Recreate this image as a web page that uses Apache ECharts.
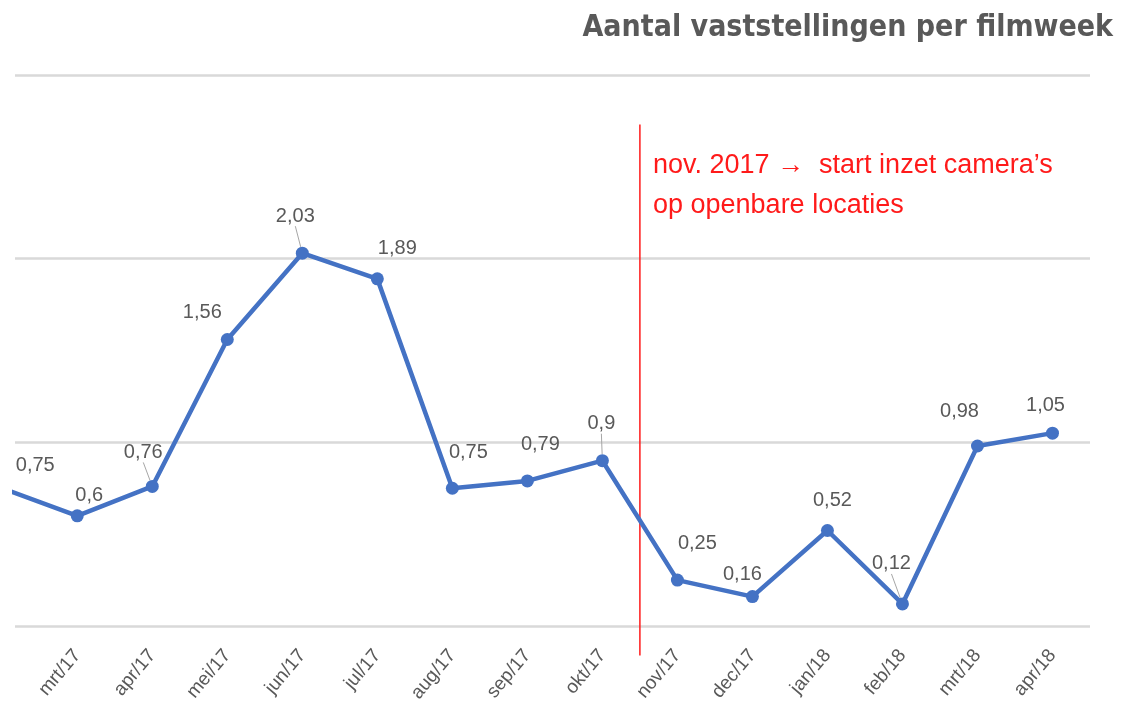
<!DOCTYPE html>
<html>
<head>
<meta charset="utf-8">
<script src="https://cdn.jsdelivr.net/npm/echarts@6/dist/echarts.min.js"></script>
<style>html,body{margin:0;padding:0;background:#fff}#c{width:1124px;height:721px}</style>
</head>
<body>
<div id="c"></div>
<script>
// Data
const categories = ['feb/17','mrt/17','apr/17','mei/17','jun/17','jul/17','aug/17','sep/17','okt/17','nov/17','dec/17','jan/18','feb/18','mrt/18','apr/18'];
const values = [0.75, 0.6, 0.76, 1.56, 2.03, 1.89, 0.75, 0.79, 0.9, 0.25, 0.16, 0.52, 0.12, 0.98, 1.05];
const leaderLines = [2, 4, 8, 12];
const markerIndex = 8.5; // boundary between okt/17 and nov/17
const markerRange = [2.73, -0.16];
const titleText = 'Aantal vaststellingen per filmweek';
const noteText = 'nov. 2017 \u2192  start inzet camera\u2019s\nop openbare locaties';

// label offsets (styling, px)
const labelOffsets = [[33,-23],[12,-20],[-9,-34],[-25,-27],[-7,-37],[20,-30],[16,-36],[13,-36],[-1,-37],[20,-37],[-10,-22],[5,-30],[-11,-40],[-18,-35],[-7,-28]];

const fmt = v => String(v).replace('.', ',');
const labelValues = categories.map((c, i) => i).filter(i => i >= 1);

const chart = echarts.init(document.getElementById('c'), null, {renderer: 'canvas'});
chart.setOption({
  backgroundColor: '#fff',
  animation: false,
  textStyle: {fontFamily: 'Liberation Sans, Arial, sans-serif'},
  title: [
    {text: titleText, right: 6, top: 8,
     textStyle: {fontSize: 30, fontWeight: 'bold', color: '#595959', fontFamily: 'DejaVu Sans Condensed, Liberation Sans, sans-serif'}},
    {text: noteText, left: 648, top: 141,
     textStyle: {fontSize: 27, fontWeight: 'normal', color: '#ff1a1a', lineHeight: 40, fontFamily: 'Liberation Sans, sans-serif'}}
  ],
  grid: {left: 15, right: 34, top: 75, bottom: 95},
  xAxis: {
    type: 'value', min: 0.17, max: 14.5,
    axisLine: {show: false}, axisTick: {show: false}, splitLine: {show: false},
    axisLabel: {
      customValues: labelValues,
      formatter: v => categories[Math.round(v)],
      rotate: 50, margin: 26, fontSize: 19, color: '#595959'
    }
  },
  yAxis: {
    type: 'value', min: 0, max: 3, interval: 1,
    axisLabel: {show: false}, axisLine: {show: false}, axisTick: {show: false},
    splitLine: {lineStyle: {color: '#d9d9d9', width: 2.5}}
  },
  series: [
    {
      type: 'line',
      clip: true,
      data: values.map((v, i) => {
        const item = {value: [i, v]};
        if (leaderLines.indexOf(i) >= 0) item.labelLine = {show: true};
        return item;
      }),
      symbol: 'circle', symbolSize: 13,
      lineStyle: {color: '#4472C4', width: 4.5},
      itemStyle: {color: '#4472C4'},
      label: {show: true, position: 'inside', fontSize: 20, color: '#595959',
        formatter: p => fmt(p.value[1])},
      labelLine: {show: false, lineStyle: {color: '#a6a6a6', width: 1}},
      labelLayout: p => ({dx: labelOffsets[p.dataIndex][0], dy: labelOffsets[p.dataIndex][1]}),
      z: 3
    },
    {
      type: 'scatter',
      clip: false,
      data: [[0, values[0]]],
      symbolSize: 1,
      itemStyle: {color: 'rgba(255,255,255,0)', opacity: 1},
      label: {show: true, position: 'inside', fontSize: 20, color: '#595959',
        formatter: p => fmt(p.value[1])},
      labelLayout: () => ({dx: labelOffsets[0][0], dy: labelOffsets[0][1]}),
      silent: true
    },
    {
      type: 'line',
      clip: false,
      data: [[markerIndex, markerRange[0]], [markerIndex, markerRange[1]]],
      symbol: 'none',
      lineStyle: {color: '#ff1a1a', width: 1.5},
      silent: true,
      z: 2
    }
  ]
});
</script>
</body>
</html>
